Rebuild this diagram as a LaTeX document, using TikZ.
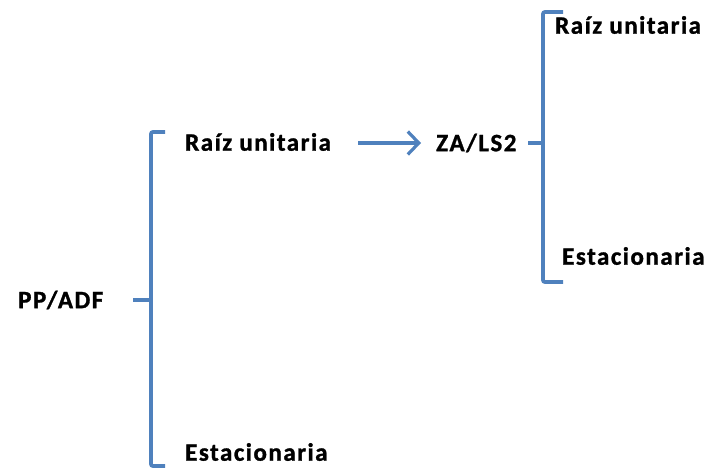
\documentclass[tikz,border=0pt]{standalone}
\usepackage{fontspec}
\setmainfont{Carlito}[LetterSpace=6, BoldFeatures={FakeBold=1.2}]
\usetikzlibrary{arrows.meta}
\definecolor{brc}{HTML}{4F81BD}
\begin{document}
\begin{tikzpicture}[x=1pt,y=-1pt,
  lbl/.style={font=\fontsize{25}{28}\selectfont\bfseries, inner sep=0pt, anchor=west},
  brk/.style={draw=brc, line width=3.8pt, rounded corners=2pt},
  arr/.style={draw=brc, line width=3.8pt, -{Straight Barb[length=11pt,width=23pt,line width=3.2pt]}}]
\useasboundingbox (0,0) rectangle (711,470);
% labels
\node[lbl] (pp) at (18,300) {PP/ADF};
\node[lbl] (ru1) at (185,142) {Raíz unitaria};
\node[lbl] (es1) at (185,452) {Estacionaria};
\node[lbl] (za) at (436,143) {ZA/LS2};
\node[lbl] (ru2) at (555,25) {Raíz unitaria};
\node[lbl] (es2) at (562,256) {Estacionaria};
% left bracket
\coordinate (lt) at (165,132);
\coordinate (lb) at (165,466);
\coordinate (lm) at (133,300);
\draw[brk] (lt) -- (151,132) -- (151,466) -- (lb);
\draw[brk] (lm) -- (151,300);
% right bracket
\coordinate (rt) at (563,12);
\coordinate (rb) at (563,282);
\coordinate (rm) at (528,143);
\draw[brk] (rt) -- (543,12) -- (543,282) -- (rb);
\draw[brk] (rm) -- (543,143);
% arrow
\coordinate (a1) at (358,143);
\coordinate (a2) at (421,143);
\draw[arr] (a1) -- (a2);
\end{tikzpicture}
\end{document}
